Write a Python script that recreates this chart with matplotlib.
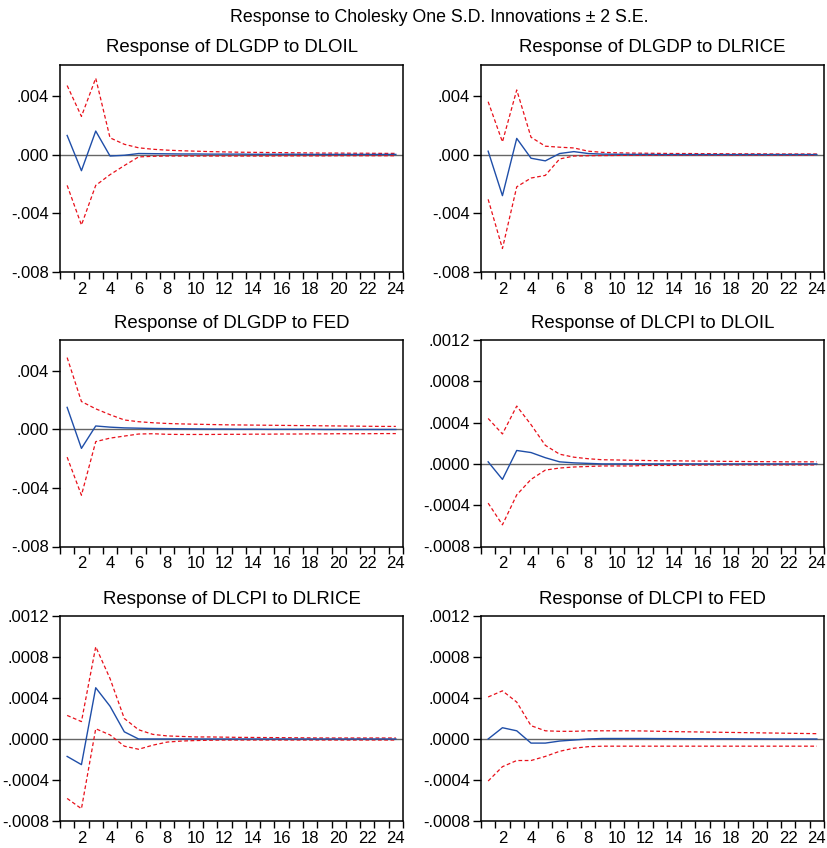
import matplotlib
matplotlib.use("Agg")
import matplotlib.pyplot as plt
import numpy as np

plt.rcParams['font.family'] = ['Liberation Sans', 'DejaVu Sans']

periods = list(range(1, 25))

# DLGDP responses (impulse, +2 S.E., -2 S.E.)
gdp_oil = [0.0013, -0.0011, 0.0016, -0.0001, -0.00005, 0.00007, 0.00006, 0.00005, 0.00004, 0.00004, 0.00003, 0.00003,
           0.00003, 0.00002, 0.00002, 0.00002, 0.00002, 0.00001, 0.00001, 0.00001, 0.00001, 0.00001, 0.00001, 0.00001]
gdp_oil_up = [0.0047, 0.0026, 0.0052, 0.00114, 0.0007, 0.00046, 0.00036, 0.0003, 0.00026, 0.00023, 0.0002, 0.00018,
              0.00016, 0.00015, 0.00014, 0.00013, 0.00012, 0.00011, 0.0001, 0.0001, 0.00009, 0.00009, 0.00008, 0.00008]
gdp_oil_lo = [-0.0021, -0.0048, -0.0021, -0.00137, -0.00075, -0.00016, -0.00012, -0.0001, -0.0001, -0.0001, -0.0001, -0.0001,
              -0.0001, -0.0001, -0.0001, -0.00009, -0.00009, -0.00009, -0.00009, -0.00008, -0.00008, -0.00008, -0.00008, -0.00008]

gdp_rice = [0.00023, -0.0028, 0.0011, -0.00025, -0.00043, 0.00007, 0.0002, 0.00007, 0.00003, 0.00002, 0.00001, 0.00001,
            0.0, 0.0, 0.0, 0.0, 0.0, 0.0, 0.0, 0.0, 0.0, 0.0, 0.0, 0.0]
gdp_rice_up = [0.0036, 0.00086, 0.0044, 0.00118, 0.00057, 0.0005, 0.00045, 0.00023, 0.00015, 0.00012, 0.0001, 0.00009,
               0.00008, 0.00007, 0.00007, 0.00006, 0.00006, 0.00005, 0.00005, 0.00005, 0.00004, 0.00004, 0.00004, 0.00004]
gdp_rice_lo = [-0.00305, -0.0064, -0.0022, -0.0016, -0.00142, -0.0003, -0.0001, -0.00008, -0.00007, -0.00006, -0.00005, -0.00005,
               -0.00005, -0.00005, -0.00004, -0.00004, -0.00004, -0.00004, -0.00004, -0.00004, -0.00004, -0.00004, -0.00004, -0.00004]

gdp_fed = [0.0015, -0.0013, 0.00023, 0.00015, 0.0001, 0.00008, 0.00006, 0.00005, 0.00004, 0.00003, 0.00002, 0.00002,
           0.00001, 0.00001, 0.0, 0.0, 0.0, 0.0, -0.00001, -0.00001, -0.00001, -0.00001, -0.00001, -0.00001]
gdp_fed_up = [0.0049, 0.0019, 0.0014, 0.001, 0.00064, 0.00052, 0.00045, 0.0004, 0.00037, 0.00035, 0.00033, 0.00031,
              0.0003, 0.00029, 0.00028, 0.00027, 0.00026, 0.00025, 0.00024, 0.00023, 0.00022, 0.00021, 0.0002, 0.0002]
gdp_fed_lo = [-0.0019, -0.0045, -0.00084, -0.0006, -0.00046, -0.00032, -0.0003, -0.00034, -0.00035, -0.00035, -0.00035, -0.00034,
              -0.00034, -0.00033, -0.00033, -0.00032, -0.00032, -0.00031, -0.00031, -0.0003, -0.0003, -0.0003, -0.00029, -0.00029]

# DLCPI responses
cpi_oil = [0.00002, -0.00015, 0.00013, 0.00011, 0.00006, 0.00002, 0.00001, 0.000005, 0.0, 0.0, 0.0, 0.0,
           0.0, 0.0, 0.0, 0.0, 0.0, 0.0, 0.0, 0.0, 0.0, 0.0, 0.0, 0.0]
cpi_oil_up = [0.00044, 0.00029, 0.00056, 0.00038, 0.00018, 0.000094, 0.000065, 0.00005, 0.00004, 0.000038, 0.000035, 0.000033,
              0.00003, 0.00003, 0.000028, 0.000027, 0.000025, 0.000024, 0.000023, 0.000022, 0.000021, 0.00002, 0.00002, 0.00002]
cpi_oil_lo = [-0.00038, -0.00059, -0.0003, -0.00015, -0.00006, -0.00004, -0.00003, -0.000025, -0.00002, -0.00002, -0.00002, -0.000015,
              -0.000015, -0.000015, -0.000012, -0.000012, -0.00001, -0.00001, -0.00001, -0.00001, -0.00001, -0.00001, -0.00001, -0.00001]

cpi_rice = [-0.00017, -0.00025, 0.0005, 0.00032, 0.00007, 0.0, 0.0, 0.0, 0.0, 0.0, 0.0, 0.0,
            0.0, 0.0, 0.0, 0.0, 0.0, 0.0, 0.0, 0.0, 0.0, 0.0, 0.0, 0.0]
cpi_rice_up = [0.00023, 0.00017, 0.0009, 0.00059, 0.0002, 0.00009, 0.000045, 0.00003, 0.000025, 0.00002, 0.00002, 0.000018,
               0.000016, 0.000015, 0.000014, 0.000013, 0.000012, 0.000011, 0.00001, 0.00001, 0.00001, 0.00001, 0.00001, 0.00001]
cpi_rice_lo = [-0.00058, -0.00068, 0.0001, 0.00004, -0.00007, -0.0001, -0.00006, -0.00003, -0.00002, -0.000015, -0.000012, -0.00001,
               -0.00001, -0.00001, -0.00001, -0.00001, -0.00001, -0.00001, -0.00001, -0.00001, -0.00001, -0.00001, -0.00001, -0.00001]

cpi_fed = [0.0, 0.00011, 0.00008, -0.00004, -0.00004, -0.00002, -0.00001, 0.0, 0.000005, 0.000005, 0.000005, 0.000005,
           0.000004, 0.000004, 0.000003, 0.000003, 0.000002, 0.000002, 0.000001, 0.000001, 0.0, 0.0, 0.0, 0.0]
cpi_fed_up = [0.00041, 0.00047, 0.00036, 0.00013, 0.00008, 0.000075, 0.000075, 0.00008, 0.00008, 0.00008, 0.00008, 0.000078,
              0.000075, 0.000072, 0.00007, 0.000068, 0.000066, 0.000064, 0.000062, 0.00006, 0.000058, 0.000056, 0.000054, 0.000052]
cpi_fed_lo = [-0.00041, -0.00027, -0.00021, -0.00021, -0.00017, -0.00012, -0.00009, -0.000075, -0.00007, -0.00007, -0.00007, -0.00007,
              -0.00007, -0.00007, -0.00007, -0.00007, -0.00007, -0.00007, -0.00007, -0.00007, -0.00007, -0.00007, -0.00007, -0.00007]

titles = ["Response of DLGDP to DLOIL", "Response of DLGDP to DLRICE",
          "Response of DLGDP to FED", "Response of DLCPI to DLOIL",
          "Response of DLCPI to DLRICE", "Response of DLCPI to FED"]
series = [(gdp_oil, gdp_oil_up, gdp_oil_lo), (gdp_rice, gdp_rice_up, gdp_rice_lo),
          (gdp_fed, gdp_fed_up, gdp_fed_lo), (cpi_oil, cpi_oil_up, cpi_oil_lo),
          (cpi_rice, cpi_rice_up, cpi_rice_lo), (cpi_fed, cpi_fed_up, cpi_fed_lo)]

gdp_ticks = [0.004, 0.0, -0.004, -0.008]
gdp_labels = [".004", ".000", "-.004", "-.008"]
cpi_ticks = [0.0012, 0.0008, 0.0004, 0.0, -0.0004, -0.0008]
cpi_labels = [".0012", ".0008", ".0004", ".0000", "-.0004", "-.0008"]

fig = plt.figure(figsize=(8.27, 8.48), dpi=100)

W, H = 827, 848
cols = [60, 481]
rows = [(65, 272), (340, 546.5), (616, 821)]

for i in range(6):
    c = cols[i % 2]
    top, bot = rows[i // 2]
    ax = fig.add_axes([c / W, (H - bot) / H, 343 / W, (bot - top) / H])
    resp, up, lo = series[i]

    ax.axhline(0, color="#666666", lw=1, zorder=1)
    ax.plot(periods, up, color="#e8101a", lw=0.9, ls=(0, (3, 2)))
    ax.plot(periods, lo, color="#e8101a", lw=0.9, ls=(0, (3, 2)))
    ax.plot(periods, resp, color="#1f4ea8", lw=1)

    ax.set_xlim(0.5, 24.5)
    ax.set_xticks(range(2, 25, 2))
    ax.set_xticks(np.arange(0.5, 25, 1), minor=True)
    ax.tick_params(axis="x", which="major", length=0, pad=7, labelsize=12)
    ax.tick_params(axis="x", which="minor", length=5, width=1, direction="out")

    if i < 3:
        ax.set_ylim(-0.008, 0.0061)
        ax.set_yticks(gdp_ticks)
        ax.set_yticklabels(gdp_labels)
    else:
        ax.set_ylim(-0.0008, 0.0012)
        ax.set_yticks(cpi_ticks)
        ax.set_yticklabels(cpi_labels)
    ax.tick_params(axis="y", length=6, width=1, direction="out", pad=2, labelsize=12)

    for s in ax.spines.values():
        s.set_linewidth(1.1)
    ax.set_title(titles[i], fontsize=13.4, pad=9)

fig.text(0.531, 1 - 17 / H, "Response to Cholesky One S.D. Innovations \u00b1 2 S.E.",
         ha="center", va="center", fontsize=12.8)

plt.savefig("out.png", dpi=100)
